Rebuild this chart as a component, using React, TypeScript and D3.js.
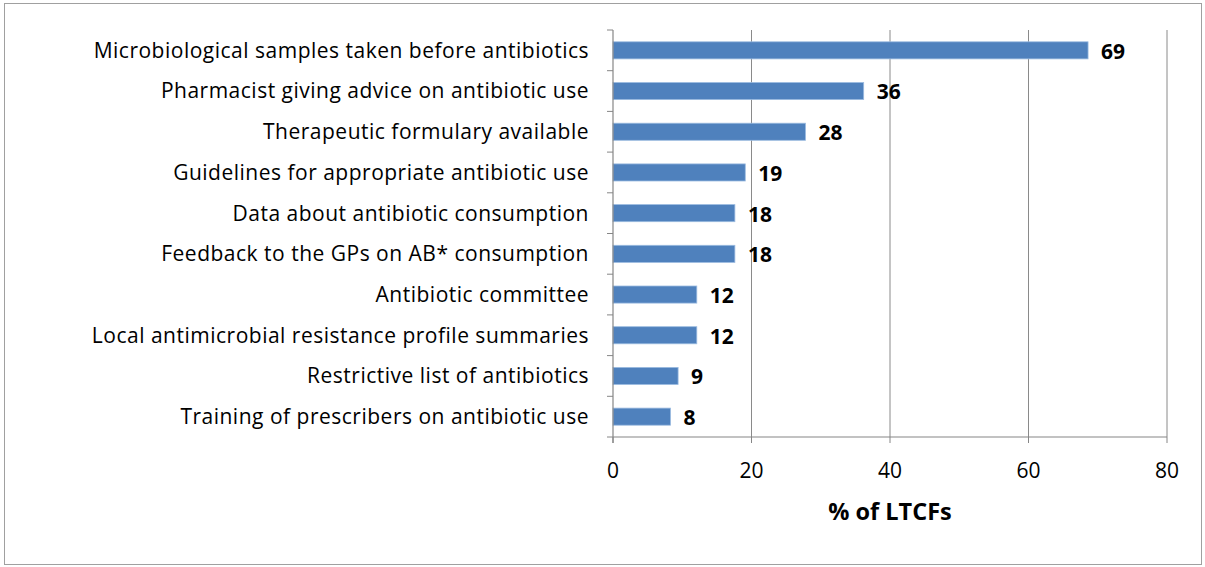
import React from "react";
import * as d3 from "d3";

const categories = [
  "Microbiological samples taken before antibiotics",
  "Pharmacist giving advice on antibiotic use",
  "Therapeutic formulary available",
  "Guidelines for appropriate antibiotic use",
  "Data about antibiotic consumption",
  "Feedback to the GPs on AB* consumption",
  "Antibiotic committee",
  "Local antimicrobial resistance profile summaries",
  "Restrictive list of antibiotics",
  "Training of prescribers on antibiotic use",
];
const values = [68.6, 36.2, 27.8, 19.1, 17.6, 17.6, 12.1, 12.1, 9.4, 8.3];
const valueLabels = ["69", "36", "28", "19", "18", "18", "12", "12", "9", "8"];
const xTicks = [0, 20, 40, 60, 80];
const xTitle = "% of LTCFs";

const W = 1205;
const H = 567;
const plot = { left: 613, right: 1167, top: 30, bottom: 437 };
const font = "'Open Sans', sans-serif";

export default function App() {
  const x = d3.scaleLinear().domain([0, 80]).range([plot.left, plot.right]);
  const y = d3
    .scaleBand<string>()
    .domain(categories)
    .range([plot.top, plot.bottom])
    .paddingInner(0.58)
    .paddingOuter(0.29);
  const band = (plot.bottom - plot.top) / categories.length;

  return (
    <svg
      width={W}
      height={H}
      style={{ position: "absolute", left: 0, top: 0, display: "block" }}
    >
      <rect x={0} y={0} width={W} height={H} fill="#fff" />
      <rect
        x={4.5}
        y={3.5}
        width={W - 8}
        height={H - 6}
        fill="none"
        stroke="#a0a0a0"
        strokeWidth={1}
      />
      {xTicks.slice(1).map((t) => (
        <line
          key={"g" + t}
          x1={x(t)}
          x2={x(t)}
          y1={plot.top}
          y2={plot.bottom}
          stroke="#8a8a8a"
          strokeWidth={1}
        />
      ))}
      {categories.map((c, i) => (
        <rect
          key={"b" + i}
          x={x(0)}
          y={y(c)!}
          width={x(values[i]) - x(0)}
          height={y.bandwidth()}
          fill="#4f81bd"
          stroke="#9bbbe0"
          strokeWidth={0.8}
        />
      ))}
      {/* y axis */}
      <line x1={plot.left} x2={plot.left} y1={plot.top} y2={plot.bottom + 6} stroke="#868686" strokeWidth={1.2} />
      {d3.range(categories.length + 1).map((i) => (
        <line
          key={"yt" + i}
          x1={plot.left - 6}
          x2={plot.left}
          y1={plot.top + i * band}
          y2={plot.top + i * band}
          stroke="#868686"
          strokeWidth={1}
        />
      ))}
      {/* x axis */}
      <line x1={plot.left} x2={plot.right} y1={plot.bottom} y2={plot.bottom} stroke="#868686" strokeWidth={1.2} />
      {xTicks.map((t) => (
        <line
          key={"xt" + t}
          x1={x(t)}
          x2={x(t)}
          y1={plot.bottom}
          y2={plot.bottom + 6}
          stroke="#868686"
          strokeWidth={1}
        />
      ))}
      {xTicks.map((t) => (
        <text
          key={"xl" + t}
          x={x(t)}
          y={478}
          textAnchor="middle"
          fontFamily={font}
          fontSize={21}
          fill="#000"
        >
          {t}
        </text>
      ))}
      {categories.map((c, i) => (
        <text
          key={"cl" + i}
          x={plot.left - 24}
          y={y(c)! + y.bandwidth() / 2}
          dy="0.35em"
          textAnchor="end"
          fontFamily={font}
          fontSize={21}
          letterSpacing={0.5}
          fill="#000"
        >
          {c}
        </text>
      ))}
      {categories.map((c, i) => (
        <text
          key={"vl" + i}
          x={x(values[i]) + 13}
          y={y(c)! + y.bandwidth() / 2}
          dy="0.4em"
          fontFamily={font}
          fontSize={21}
          fontWeight="bold"
          fill="#000"
        >
          {valueLabels[i]}
        </text>
      ))}
      <text
        x={(plot.left + plot.right) / 2}
        y={520}
        textAnchor="middle"
        fontFamily={font}
        fontSize={23.5}
        fontWeight="bold"
        fill="#000"
      >
        {xTitle}
      </text>
    </svg>
  );
}
